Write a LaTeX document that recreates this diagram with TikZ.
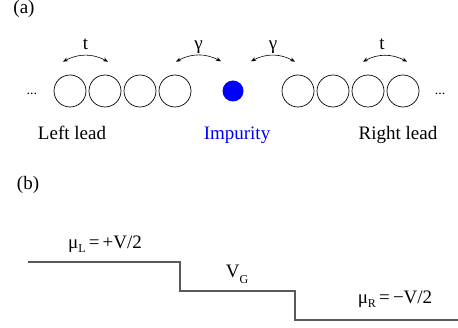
\documentclass[tikz,border=0pt]{standalone}
\usepackage{fontspec}
\setmainfont{Liberation Serif}
\usepackage{tikz}
\usetikzlibrary{arrows.meta,positioning}
\newcommand{\lowsub}[2][4pt]{\raisebox{-#1}{\fontsize{12}{14}\selectfont #2}}

\begin{document}
\begin{tikzpicture}[
    x=1pt, y=1pt,
    font=\rmfamily\fontsize{19}{23}\selectfont,
    site/.style={circle, draw, line width=0.7pt, minimum size=32pt, inner sep=0pt},
    imp/.style={circle, fill=blue, minimum size=21pt, inner sep=0pt},
    hop/.style={{Stealth[length=5pt,width=4pt]}-{Stealth[length=5pt,width=4pt]},
                line width=0.6pt, bend left=28},
    lvl/.style={draw=black!65, line width=1.1pt},
    txt/.style={anchor=base, inner sep=0pt}
  ]
  \useasboundingbox (0,0) rectangle (458,327);
  % (a) chain
  \node[txt] (pa) at (24,313) {(a)};
  \foreach \i/\x in {1/70,2/105,3/140,4/175}
    \node[site] (l\i) at (\x,236) {};
  \foreach \i/\x in {1/298,2/333,3/368,4/403}
    \node[site] (r\i) at (\x,236) {};
  \node[imp] (imp) at (233,236) {};
  \node[txt, font=\rmfamily\fontsize{14}{16}\selectfont] (ldots) at (32,232) {...};
  \node[txt, font=\rmfamily\fontsize{14}{16}\selectfont] (rdots) at (440,232) {...};
  \draw[hop] ([shift={(-7,13)}]l1.north) to node[txt, yshift=6pt] (t1) {t} ([shift={(3,13)}]l2.north);
  \draw[hop] ([shift={(1,13)}]l4.north) to node[txt, yshift=6pt] (g1) {γ} ([shift={(-12,19)}]imp.north);
  \draw[hop] ([shift={(18,19)}]imp.north) to node[txt, yshift=6pt] (g2) {γ} ([shift={(-3,13)}]r1.north);
  \draw[hop] ([shift={(-5,13)}]r3.north) to node[txt, yshift=6pt, xshift=-3pt] (t2) {t} ([shift={(4,13)}]r4.north);
  \node[txt] (llead) at (72,187) {Left lead};
  \node[txt, text=blue] (ilab) at (237,187) {Impurity};
  \node[txt] (rlead) at (398,187) {Right lead};
  % (b) levels
  \node[txt] (pb) at (28,137) {(b)};
  \draw[lvl] (28,65) -- (180,65) -- (180,36) -- (295,36) -- (295,7) -- (458,7);
  \node[txt] (muL) at (105,78) {μ\lowsub{L}\,=\,+V/2};
  \node[txt] (vg) at (237,50) {V\lowsub[6pt]{G}};
  \node[txt] (muR) at (395,24) {μ\lowsub{R}\,=\,−V/2};
\end{tikzpicture}
\end{document}
